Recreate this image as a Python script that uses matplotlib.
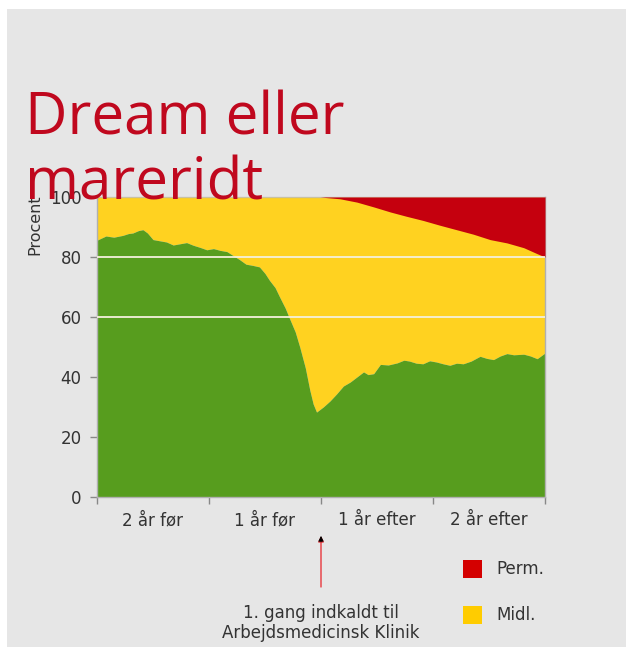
import matplotlib
matplotlib.use("Agg")
import matplotlib.pyplot as plt
from matplotlib.patches import Rectangle

# ---- data ----
t_green = [-2.00, -1.92, -1.85, -1.77, -1.72, -1.68, -1.63, -1.59, -1.55, -1.50, -1.44,
           -1.38, -1.32, -1.26, -1.20, -1.14, -1.08, -1.02, -0.96, -0.90, -0.84, -0.79,
           -0.73, -0.67, -0.61, -0.55, -0.50, -0.46, -0.41, -0.37, -0.32, -0.28, -0.23,
           -0.19, -0.14, -0.10, -0.07, -0.04, 0.02, 0.08, 0.14, 0.20, 0.26, 0.32, 0.38,
           0.42, 0.47, 0.53, 0.60, 0.68, 0.74, 0.79, 0.85, 0.91, 0.97, 1.03, 1.09, 1.15,
           1.21, 1.27, 1.34, 1.42, 1.48, 1.54, 1.60, 1.66, 1.72, 1.81, 1.87, 1.93, 2.00]
green = [85.6, 87.0, 86.6, 87.2, 87.8, 88.0, 88.8, 89.1, 88.0, 85.8, 85.4,
         85.0, 84.0, 84.4, 84.8, 83.9, 83.2, 82.4, 82.8, 82.2, 81.8, 80.6,
         79.2, 77.6, 77.2, 76.7, 74.5, 72.2, 69.8, 66.7, 63.0, 59.4, 55.0,
         50.0, 43.0, 35.6, 31.0, 28.3, 30.0, 32.0, 34.4, 37.0, 38.3, 40.0, 41.7,
         40.8, 41.1, 44.2, 44.0, 44.7, 45.6, 45.3, 44.6, 44.4, 45.4, 45.0, 44.4, 43.9,
         44.6, 44.4, 45.3, 46.9, 46.2, 45.8, 47.0, 47.8, 47.4, 47.6, 47.0, 46.1, 48.0]

t_perm = [-2.00, -0.01, 0.17, 0.32, 0.47, 0.62, 0.76, 0.91, 1.06, 1.21, 1.36, 1.51,
          1.66, 1.81, 1.93, 2.00]
perm_top = [100.0, 100.0, 99.4, 98.3, 96.7, 95.0, 93.6, 92.2, 90.6, 89.1, 87.6, 85.8,
            84.7, 83.1, 81.1, 80.0]

x_ticks = [-2, -1, 0, 1, 2]
x_label_pos = [-1.5, -0.5, 0.5, 1.5]
x_labels = ["2 år før", "1 år før", "1 år efter", "2 år efter"]
y_ticks = [0, 20, 40, 60, 80, 100]
grid_vals = [60, 80]
legend_labels = ["Perm.", "Midl."]

GREEN = "#579d1e"
YELLOW = "#ffd220"
RED = "#c5000e"
TXT = "#333333"
FONT = "DejaVu Sans"

W, H = 626, 647
fig = plt.figure(figsize=(W / 100, H / 100), dpi=100)
fig.patch.set_facecolor("white")
fig.patches.append(Rectangle((7 / W, 0), 1, 1 - 9 / H, transform=fig.transFigure,
                             facecolor="#e6e6e6", edgecolor="none", zorder=-10))

ax = fig.add_axes([97 / W, 1 - 497 / H, 448 / W, 300 / H])
ax.set_facecolor("none")
ax.fill_between(t_green, green, 100, color=YELLOW, lw=0, zorder=1)
ax.fill_between(t_green, 0, green, color=GREEN, lw=0, zorder=2)
ax.fill_between(t_perm, perm_top, 100, color=RED, lw=0, zorder=3)
for g in grid_vals:
    ax.axhline(g, color="#f4f1dc", lw=1.3, zorder=4)

ax.set_xlim(-2, 2)
ax.set_ylim(0, 100)
for s in ax.spines.values():
    s.set_color("#b0b0b0")
    s.set_linewidth(1.0)
ax.spines["top"].set_alpha(0.6)

ax.set_yticks(y_ticks)
ax.set_yticklabels([str(v) for v in y_ticks], fontsize=12, color=TXT, fontfamily=FONT)
ax.set_xticks(x_ticks)
ax.set_xticklabels([])
ax.tick_params(axis="both", length=5, width=1, color="#888888", pad=6)
ax.get_xticklines()[4].set_color("#e8383d")
for p, lab in zip(x_label_pos, x_labels):
    ax.text(p, -7.8, lab, ha="center", va="center", fontsize=12, color=TXT,
            fontfamily=FONT)

# annotation arrow
ax.annotate("", xy=(0, -13), xytext=(0, -30), xycoords="data", textcoords="data",
            annotation_clip=False,
            arrowprops=dict(arrowstyle="-|>", color="#e8383d", lw=1.0,
                            mutation_scale=8, shrinkA=0, shrinkB=0))
ax.annotate("", xy=(0, -13), xytext=(0, -15), annotation_clip=False,
            arrowprops=dict(arrowstyle="-|>", color="black", lw=0.5,
                            mutation_scale=8, shrinkA=0, shrinkB=0))
fig.text(321 / W, 1 - 623 / H, "1. gang indkaldt til\nArbejdsmedicinsk Klinik",
         ha="center", va="center", fontsize=12, color=TXT, fontfamily=FONT,
         linespacing=1.2)

# legend
for lab, col, yc in zip(legend_labels, ["#d40000", "#ffcc00"], [569, 615]):
    fig.patches.append(Rectangle((463 / W, 1 - (yc + 9) / H), 19 / W, 18 / H,
                                 transform=fig.transFigure, facecolor=col,
                                 edgecolor="none"))
    fig.text(496 / W, 1 - yc / H, lab, ha="left", va="center", fontsize=12,
             color=TXT, fontfamily=FONT)

fig.text(35 / W, 1 - 225 / H, "Procent", rotation=90, ha="center", va="center",
         fontsize=11.5, color=TXT, fontfamily=FONT)

fig.text(25 / W, 1 - 200 / H, "Dream eller\nmareridt", ha="left", va="baseline",
         fontsize=42, color="#c0081e", fontfamily="Open Sans", linespacing=1.15,
         zorder=10)

fig.savefig("out.png", dpi=100)
